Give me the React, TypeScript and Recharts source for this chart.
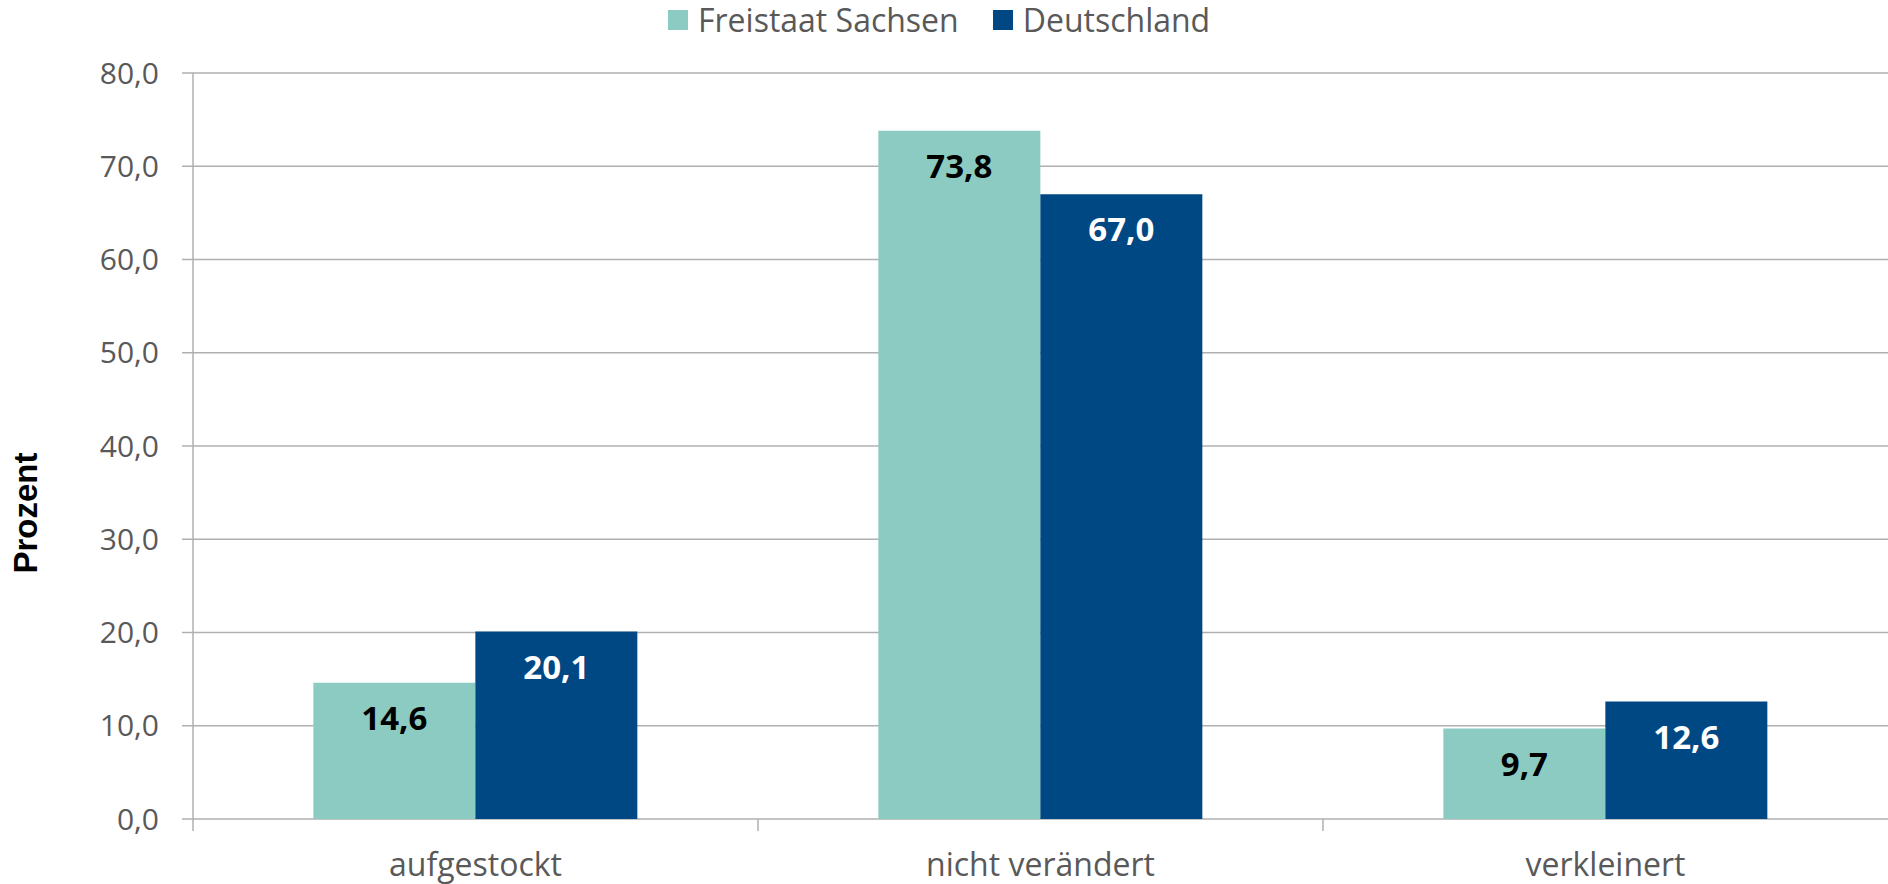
import { BarChart, Bar, XAxis, YAxis, CartesianGrid, Legend, LabelList } from 'recharts';

const categories = ['aufgestockt', 'nicht verändert', 'verkleinert'];
const sachsen = [14.6, 73.8, 9.7];
const deutschland = [20.1, 67.0, 12.6];
const yTicks = [0, 10, 20, 30, 40, 50, 60, 70, 80];

const data = categories.map((cat, i) => ({
  cat,
  sachsen: sachsen[i],
  deutschland: deutschland[i],
}));

const FONT = '"Open Sans", sans-serif';
const GRID = '#b0b0b0';
const TEXT = '#595959';
const TEAL = '#8ccbc1';
const BLUE = '#004884';

const W = 1888;
const H = 884;
const LEFT = 193;
const LEGEND_H = 40;
const HALF_BAND = (W - LEFT) / categories.length / 2;

const fmt = (v: number) => v.toFixed(1).replace('.', ',');

function CatTick(props: any) {
  const { x, y, payload } = props;
  return (
    <g>
      <line x1={x - HALF_BAND} x2={x - HALF_BAND} y1={y} y2={y + 12} stroke={GRID} strokeWidth={1.5} />
      <text x={x} y={y + 57} textAnchor="middle" fill={TEXT} fontSize={32} fontFamily={FONT}>
        {payload.value}
      </text>
    </g>
  );
}

function makeValueLabel(color: string) {
  return (props: any) => {
    const { x, y, width, value } = props;
    return (
      <text
        x={x + width / 2}
        y={y + 47}
        textAnchor="middle"
        fill={color}
        fontSize={33}
        fontWeight="bold"
        fontFamily={FONT}
      >
        {fmt(value)}
      </text>
    );
  };
}

function LegendBox() {
  const items = [
    { name: 'Freistaat Sachsen', color: TEAL },
    { name: 'Deutschland', color: BLUE },
  ];
  return (
    <div style={{ display: 'flex', paddingLeft: 668, fontFamily: FONT, fontSize: 32, color: TEXT, lineHeight: `${LEGEND_H}px`, height: LEGEND_H }}>
      {items.map((it) => (
        <div key={it.name} style={{ display: 'flex', alignItems: 'center', marginRight: 34 }}>
          <span style={{ width: 20, height: 20, background: it.color, marginRight: 10, display: 'inline-block' }} />
          <span>{it.name}</span>
        </div>
      ))}
    </div>
  );
}

export default function App() {
  return (
    <div style={{ position: 'absolute', left: 0, top: 0, width: W, height: H, background: '#fff' }}>
      <BarChart
        width={W}
        height={H}
        data={data}
        margin={{ top: 73 - LEGEND_H, right: 0, bottom: 0, left: 0 }}
        barCategoryGap="21.3%"
        barGap={0}
      >
        <CartesianGrid vertical={false} stroke={GRID} strokeWidth={1.5} />
        <Legend
          verticalAlign="top"
          height={LEGEND_H}
          content={() => <LegendBox />}
          wrapperStyle={{ top: 0, left: 0, width: W }}
        />
        <XAxis
          dataKey="cat"
          interval={0}
          height={65}
          axisLine={false}
          tickLine={false}
          tickSize={0}
          tickMargin={0}
          tick={<CatTick />}
        />
        <YAxis
          domain={[0, 80]}
          ticks={yTicks}
          width={LEFT}
          tickFormatter={fmt}
          tickSize={11}
          tickMargin={23}
          axisLine={{ stroke: GRID, strokeWidth: 1.5 }}
          tickLine={{ stroke: GRID, strokeWidth: 1.5 }}
          tick={{ fill: TEXT, fontSize: 30, fontFamily: FONT }}
          label={{
            content: () => (
              <text
                x={25}
                y={513}
                transform="rotate(-90 25 513)"
                textAnchor="middle"
                dominantBaseline="central"
                fontFamily='"Liberation Sans", Arial, sans-serif'
                fontWeight="bold"
                fontSize={33}
                fill="#000"
              >
                Prozent
              </text>
            ),
          }}
        />
        <Bar dataKey="sachsen" name="Freistaat Sachsen" fill={TEAL} isAnimationActive={false}>
          <LabelList dataKey="sachsen" content={makeValueLabel('#000')} />
        </Bar>
        <Bar dataKey="deutschland" name="Deutschland" fill={BLUE} isAnimationActive={false}>
          <LabelList dataKey="deutschland" content={makeValueLabel('#fff')} />
        </Bar>
      </BarChart>
    </div>
  );
}
